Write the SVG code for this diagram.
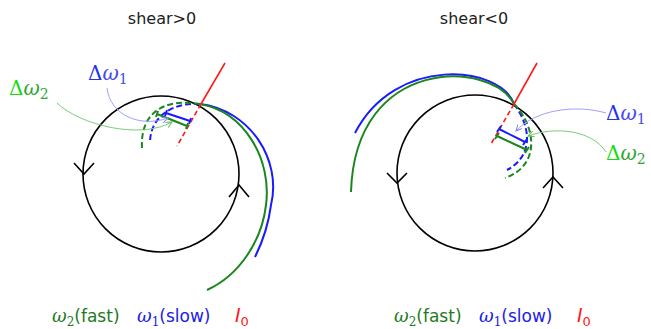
<svg xmlns="http://www.w3.org/2000/svg" width="651" height="329" viewBox="0 0 651 329">
<style>
.circ{fill:none;stroke:#000;stroke-width:1.6}
.chev{fill:none;stroke:#000;stroke-width:1.6;stroke-linejoin:miter}
.b{fill:none;stroke:#1a1aff;stroke-width:2}
.g{fill:none;stroke:#1b861b;stroke-width:2}
.bd{fill:none;stroke:#1a1aff;stroke-width:2;stroke-dasharray:6,3}
.gd{fill:none;stroke:#1b861b;stroke-width:2;stroke-dasharray:6,3}
.r{fill:none;stroke:#ff1a1a;stroke-width:1.6}
.rd{fill:none;stroke:#ff1a1a;stroke-width:1.6;stroke-dasharray:5,3}
.ab{fill:none;stroke:#a0a0ff;stroke-width:1}
.ag{fill:none;stroke:#7acc7a;stroke-width:1}
.title{font-family:"DejaVu Sans",sans-serif;font-size:16px;fill:#222;text-anchor:middle}
.serif{font-family:"DejaVu Serif","Liberation Serif",serif}
.sans{font-family:"DejaVu Sans",sans-serif}
.dl{font-family:"DejaVu Serif","Liberation Serif",serif;font-size:20px}
</style>
<defs>
<marker id="mb" markerWidth="8" markerHeight="8" refX="6" refY="3" orient="auto" markerUnits="userSpaceOnUse">
<path d="M0,0 L6,3 L0,6" fill="none" stroke="#8080ff" stroke-width="1"/>
</marker>
<marker id="mg" markerWidth="8" markerHeight="8" refX="6" refY="3" orient="auto" markerUnits="userSpaceOnUse">
<path d="M0,0 L6,3 L0,6" fill="none" stroke="#5cbf5c" stroke-width="1"/>
</marker>
</defs>

<text class="title" x="162" y="24">shear&gt;0</text>
<text class="title" x="474" y="24">shear&lt;0</text>

<g id="left-panel">
  <g id="left-circle">
    <circle class="circ" cx="161" cy="174" r="78"/>
    <path class="chev" d="M74,163 L84,174 L94,163"/>
    <path class="chev" d="M229,197 L239,185 L249,197"/>
  </g>
  <g id="left-curves">
    <path class="b" d="M200,104 C250,110 282,160 271,205 C268,228 262,243 255,257"/>
    <path class="g" d="M200,104 C245,112 272,160 266,205 C262,240 240,275 207,290"/>
    <path class="bd" d="M200,104 C175,102 150,115 150,143"/>
    <path class="gd" d="M200,104 C165,98 140,112 142,148"/>
    <path class="r" d="M225,63 L201,104"/>
    <path class="rd" d="M201,104 L177,146"/>
  </g>
  <g id="left-bars">
    <path class="b" d="M166,113 L190,121 M165,116 L167,110 M189,124 L191,118"/>
    <path class="g" d="M157,114 L187,126 M156,117 L158,111 M186,129 L188,123"/>
  </g>
  <g id="left-labels">
    <text class="dl" x="88" y="80"><tspan fill="#2233ee">Δ</tspan><tspan font-style="italic" fill="#4848ee">ω</tspan><tspan font-size="14" dy="4" fill="#4848ee">1</tspan></text>
    <text class="dl" x="9" y="95"><tspan fill="#11dd11">Δ</tspan><tspan font-style="italic" fill="#33a533">ω</tspan><tspan font-size="14" dy="4" fill="#33a533">2</tspan></text>
  </g>
  <g id="left-legend">
    <text x="52" y="322" fill="#1f7a1f"><tspan class="serif" font-size="18" font-style="italic">ω</tspan><tspan class="serif" font-size="12" dy="4">2</tspan><tspan class="sans" font-size="17" dy="-4">(fast)</tspan></text>
    <text x="137" y="322" fill="#2020e8"><tspan class="serif" font-size="18" font-style="italic">ω</tspan><tspan class="serif" font-size="12" dy="4">1</tspan><tspan class="sans" font-size="17" dy="-4">(slow)</tspan></text>
    <text x="235" y="322" fill="#ff1a1a"><tspan class="sans" font-size="19" font-style="italic">I</tspan><tspan class="sans" font-size="13" dy="4">0</tspan></text>
  </g>
</g>

<g id="right-panel">
  <g id="right-circle">
    <circle class="circ" cx="475" cy="173" r="78"/>
    <path class="chev" d="M387,173 L397,183 L407,173"/>
    <path class="chev" d="M543,188 L553,177 L563,188"/>
  </g>
  <g id="right-curves">
    <path class="b" d="M514,104 C500,65 395,55 355,133"/>
    <path class="g" d="M514,104 C492,60 355,55 351,192"/>
    <path class="bd" d="M514,104 C530,125 535,155 507,170"/>
    <path class="gd" d="M514,104 C535,125 542,165 505,178"/>
    <path class="r" d="M537,63 L514,104"/>
    <path class="rd" d="M514,104 L491,144"/>
  </g>
  <g id="right-bars">
    <path class="b" d="M499,129 L525,142 M497,132 L501,126 M523,145 L527,139"/>
    <path class="g" d="M497,136 L527,150 M495,139 L499,133 M525,153 L529,147"/>
  </g>
  <g id="right-labels">
    <text class="dl" x="606" y="120"><tspan fill="#2233ee">Δ</tspan><tspan font-style="italic" fill="#4848ee">ω</tspan><tspan font-size="14" dy="4" fill="#4848ee">1</tspan></text>
    <text class="dl" x="606" y="160"><tspan fill="#11dd11">Δ</tspan><tspan font-style="italic" fill="#33a533">ω</tspan><tspan font-size="14" dy="4" fill="#33a533">2</tspan></text>
  </g>
  <g id="right-legend">
    <text x="394" y="322" fill="#1f7a1f"><tspan class="serif" font-size="18" font-style="italic">ω</tspan><tspan class="serif" font-size="12" dy="4">2</tspan><tspan class="sans" font-size="17" dy="-4">(fast)</tspan></text>
    <text x="479" y="322" fill="#2020e8"><tspan class="serif" font-size="18" font-style="italic">ω</tspan><tspan class="serif" font-size="12" dy="4">1</tspan><tspan class="sans" font-size="17" dy="-4">(slow)</tspan></text>
    <text x="577" y="322" fill="#ff1a1a"><tspan class="sans" font-size="19" font-style="italic">I</tspan><tspan class="sans" font-size="13" dy="4">0</tspan></text>
  </g>
</g>

<g id="connectors">
  <path class="ab" d="M107,88 C110,115 140,128 168,118" marker-end="url(#mb)"/>
  <path class="ag" d="M57,103 C80,125 140,140 172,122" marker-end="url(#mg)"/>
  <path class="ab" d="M606,113 C575,104 535,110 516,131" marker-end="url(#mb)"/>
  <path class="ag" d="M606,152 C592,130 555,126 528,136" marker-end="url(#mg)"/>
</g>
</svg>
